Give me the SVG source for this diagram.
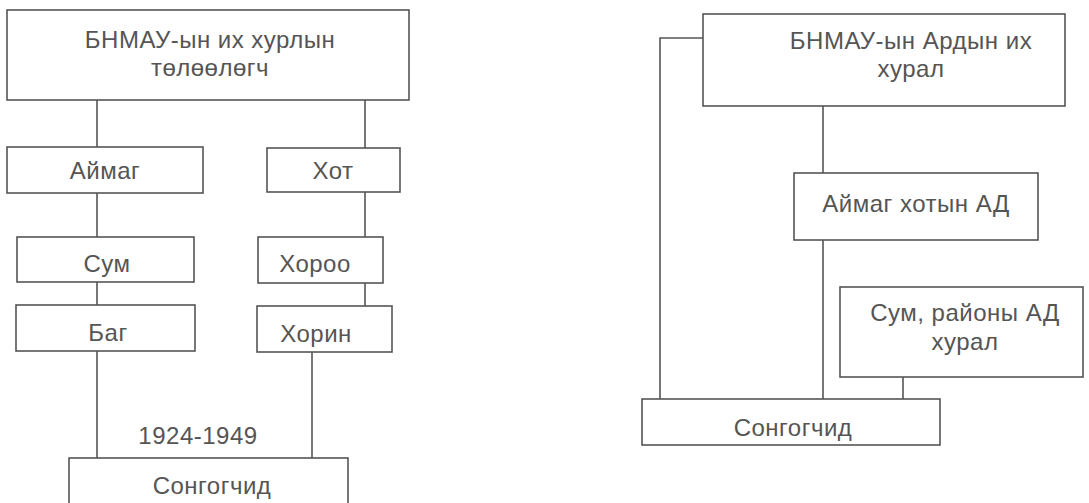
<svg xmlns="http://www.w3.org/2000/svg" width="1089" height="503" viewBox="0 0 1089 503">
<style>
.box{fill:#fff;stroke:#555;stroke-width:1.6}
.t{font-family:"Liberation Sans",Arial,sans-serif;font-size:24px;letter-spacing:0.5px;fill:#555;text-anchor:middle;dominant-baseline:central}
.c{fill:none;stroke:#555;stroke-width:1.6}
</style>
<rect width="1089" height="503" fill="#fff"/>
<g id="connectors">
<path class="c" d="M97 100V147"/>
<path class="c" d="M365 100V148"/>
<path class="c" d="M97 193V237"/>
<path class="c" d="M365 192V237"/>
<path class="c" d="M97 282V305"/>
<path class="c" d="M365 283V306"/>
<path class="c" d="M97 351V458"/>
<path class="c" d="M312 352V458"/>
<path class="c" d="M703 38H660V400"/>
<path class="c" d="M823 106V173"/>
<path class="c" d="M823 240V400"/>
<path class="c" d="M903 377V400"/>
</g>
<g id="n1"><rect class="box" x="7" y="10" width="402" height="90"/><text class="t" x="210" y="39">БНМАУ-ын их хурлын</text><text class="t" x="210" y="67">төлөөлөгч</text></g>
<g id="n2"><rect class="box" x="7" y="147" width="196" height="46"/><text class="t" x="105" y="170">Аймаг</text></g>
<g id="n3"><rect class="box" x="267" y="148" width="133" height="44"/><text class="t" x="333" y="170">Хот</text></g>
<g id="n4"><rect class="box" x="17" y="237" width="177" height="45"/><text class="t" x="107" y="263">Сум</text></g>
<g id="n5"><rect class="box" x="258" y="237" width="125" height="46"/><text class="t" x="315" y="263">Хороо</text></g>
<g id="n6"><rect class="box" x="16" y="305" width="179" height="46"/><text class="t" x="108" y="332">Баг</text></g>
<g id="n7"><rect class="box" x="257" y="306" width="135" height="46"/><text class="t" x="316" y="333">Хорин</text></g>
<g id="n8"><text class="t" x="198" y="435">1924-1949</text></g>
<g id="n9"><rect class="box" x="69" y="458" width="279" height="50"/><text class="t" x="212" y="485">Сонгогчид</text></g>
<g id="n10"><rect class="box" x="703" y="14" width="362" height="92"/><text class="t" x="911" y="40">БНМАУ-ын Ардын их</text><text class="t" x="911" y="68">хурал</text></g>
<g id="n11"><rect class="box" x="794" y="173" width="244" height="67"/><text class="t" x="916" y="203">Аймаг хотын АД</text></g>
<g id="n12"><rect class="box" x="840" y="287" width="243" height="90"/><text class="t" x="965" y="312">Сум, районы АД</text><text class="t" x="965" y="341">хурал</text></g>
<g id="n13"><rect class="box" x="642" y="399" width="298" height="46"/><text class="t" x="793" y="427">Сонгогчид</text></g>
</svg>
